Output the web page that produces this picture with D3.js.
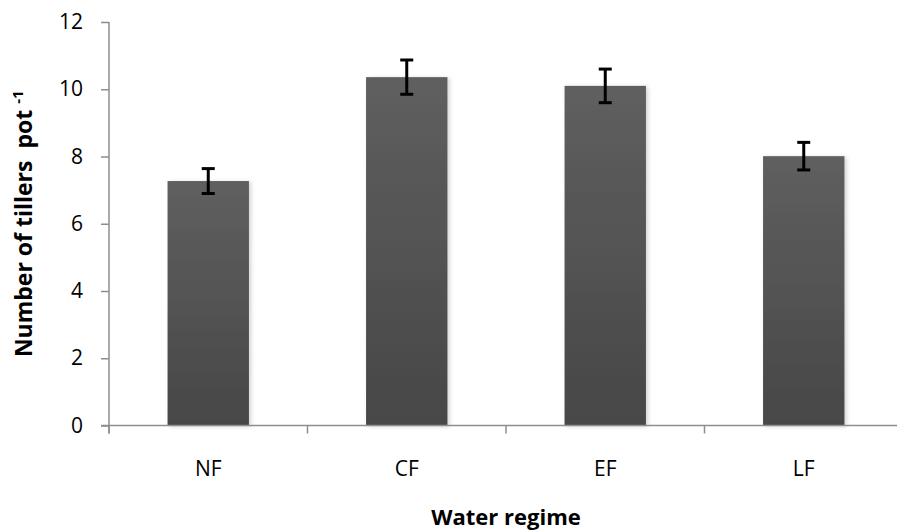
<!DOCTYPE html>
<html>
<head>
<meta charset="utf-8">
<script src="https://cdn.jsdelivr.net/npm/d3@7"></script>
<style>
  html, body { margin: 0; padding: 0; background: #fff; }
  svg { display: block; font-family: "Open Sans", Lato, sans-serif; }
</style>
</head>
<body>
<svg id="chart" width="897" height="531"></svg>
<script>
// Tiller counts per pot under each water regime, with error bars
const categories = ["NF", "CF", "EF", "LF"];
const means = [7.27, 10.36, 10.10, 8.01];
const errors = [0.37, 0.51, 0.50, 0.41];
const yTicks = [0, 2, 4, 6, 8, 10, 12];

const svg = d3.select("#chart");
const plotLeft = 109, plotRight = 903, plotTop = 22, plotBottom = 425.5;
const font = "'Open Sans', Lato, sans-serif";

const x = d3.scaleBand()
  .domain(categories)
  .range([plotLeft, plotRight])
  .paddingInner(0.59)
  .paddingOuter(0.295);

const y = d3.scaleLinear().domain([0, 12]).range([plotBottom, plotTop]);

const defs = svg.append("defs");
const grad = defs.append("linearGradient")
  .attr("id", "barFill").attr("x1", 0).attr("y1", 0).attr("x2", 0).attr("y2", 1);
grad.append("stop").attr("offset", "0%").attr("stop-color", "#5f5f5f");
grad.append("stop").attr("offset", "100%").attr("stop-color", "#474747");

const shadow = defs.append("filter").attr("id", "barShadow")
  .attr("x", "-10%").attr("y", "-10%").attr("width", "130%").attr("height", "120%");
shadow.append("feDropShadow")
  .attr("dx", 2).attr("dy", 1).attr("stdDeviation", 2)
  .attr("flood-color", "#000").attr("flood-opacity", 0.18);

// Bars
svg.append("g").selectAll("rect")
  .data(categories)
  .join("rect")
  .attr("x", d => x(d))
  .attr("width", x.bandwidth())
  .attr("y", (d, i) => y(means[i]))
  .attr("height", (d, i) => y(0) - y(means[i]))
  .attr("fill", "url(#barFill)")
  .attr("filter", "url(#barShadow)");

// Error bars
const eb = svg.append("g").attr("stroke", "#000").attr("stroke-width", 3);
categories.forEach((c, i) => {
  const cx = x(c) + x.bandwidth() / 2;
  const hi = y(means[i] + errors[i]), lo = y(means[i] - errors[i]);
  eb.append("line").attr("x1", cx).attr("x2", cx).attr("y1", hi).attr("y2", lo);
  eb.append("line").attr("x1", cx - 6.5).attr("x2", cx + 6.5).attr("y1", hi).attr("y2", hi);
  eb.append("line").attr("x1", cx - 6.5).attr("x2", cx + 6.5).attr("y1", lo).attr("y2", lo);
});

const axisColor = "#8e8e8e";

// Y axis
const yAxis = svg.append("g")
  .attr("transform", `translate(${plotLeft},0)`)
  .call(d3.axisLeft(y).tickValues(yTicks).tickSize(8).tickPadding(18).tickSizeOuter(0));
yAxis.select(".domain").attr("stroke", axisColor).attr("stroke-width", 1.5)
  .attr("d", `M0,${plotTop}V${plotBottom + 8}`);
yAxis.selectAll(".tick line").attr("stroke", axisColor).attr("stroke-width", 1.5);
yAxis.selectAll(".tick text").attr("font-size", 21).attr("fill", "#000")
  .attr("font-family", font);

// X axis
const xAxis = svg.append("g")
  .attr("transform", `translate(0,${plotBottom})`)
  .call(d3.axisBottom(x).tickSize(0).tickPadding(36).tickSizeOuter(0));
xAxis.select(".domain").attr("stroke", axisColor).attr("stroke-width", 1.5)
  .attr("d", `M${plotLeft - 8},0H${897}`);
xAxis.selectAll(".tick text").attr("font-size", 21).attr("fill", "#000")
  .attr("font-family", font);

// Category boundary ticks
const bounds = categories.map(c => x(c) - x.step() * x.paddingOuter()).concat([plotRight]);
xAxis.append("g").selectAll("line")
  .data(bounds)
  .join("line")
  .attr("x1", d => d).attr("x2", d => d)
  .attr("y1", 0).attr("y2", 8)
  .attr("stroke", axisColor).attr("stroke-width", 1.5);

// Axis titles
svg.append("text")
  .attr("x", (plotLeft + plotRight) / 2).attr("y", 525)
  .attr("text-anchor", "middle")
  .attr("font-family", font)
  .attr("font-size", 22).attr("font-weight", "bold")
  .text("Water regime");

const yTitle = svg.append("text")
  .attr("transform", `translate(32,${(plotTop + plotBottom) / 2}) rotate(-90)`)
  .attr("text-anchor", "middle")
  .attr("font-family", font)
  .style("white-space", "pre")
  .attr("font-size", 23).attr("font-weight", "bold");
yTitle.append("tspan").text("Number of tillers  pot ");
yTitle.append("tspan").attr("font-size", 15).attr("dy", -9).text("-1");
</script>
</body>
</html>
